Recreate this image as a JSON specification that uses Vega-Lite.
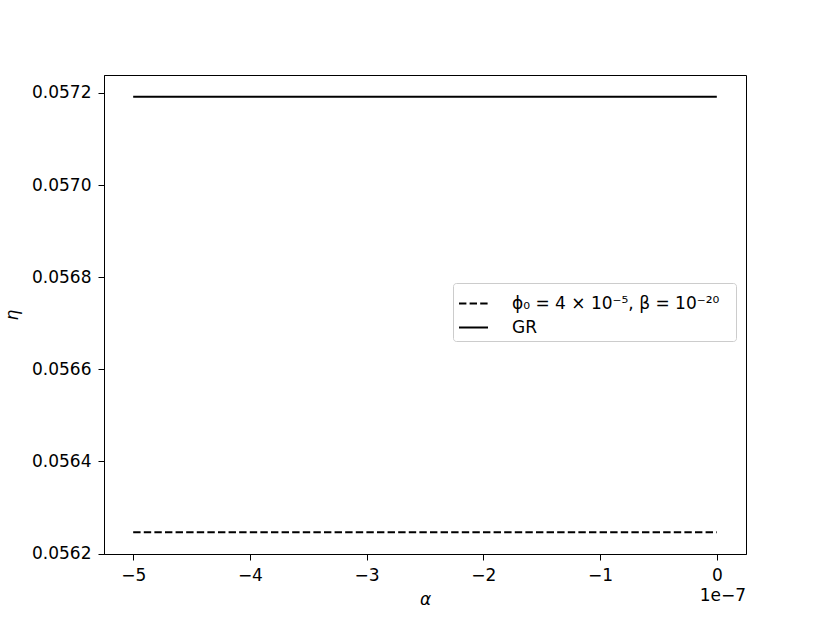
{
  "$schema": "https://vega.github.io/schema/vega-lite/v6.json",
  "width": 642,
  "height": 479,
  "autosize": {"type": "none"},
  "padding": {"left": 104, "top": 75, "right": 84, "bottom": 69},
  "background": "white",
  "config": {
    "font": "DejaVu Sans",
    "view": {"stroke": "black", "strokeWidth": 1},
    "axis": {
      "grid": false,
      "domainColor": "black",
      "tickColor": "black",
      "tickSize": 6,
      "labelFontSize": 17,
      "labelColor": "black",
      "titleFontSize": 17,
      "titleColor": "black",
      "titleFontWeight": "normal",
      "labelPadding": 7
    }
  },
  "layer": [
    {
      "data": {
        "values": [
          {"alpha": -5e-7, "eta": 0.056246, "series": "ϕ₀ = 4 × 10⁻⁵,   β = 10⁻²⁰"},
          {"alpha": 0, "eta": 0.056246, "series": "ϕ₀ = 4 × 10⁻⁵,   β = 10⁻²⁰"},
          {"alpha": -5e-7, "eta": 0.057192, "series": "GR"},
          {"alpha": 0, "eta": 0.057192, "series": "GR"}
        ]
      },
      "mark": {"type": "line", "color": "black", "strokeWidth": 2, "clip": true},
      "encoding": {
        "x": {
          "field": "alpha",
          "type": "quantitative",
          "scale": {"domain": [-5.25e-7, 2.5e-8], "nice": false, "zero": false},
          "axis": {
            "values": [-5e-7, -4e-7, -3e-7, -2e-7, -1e-7, 0],
            "labelExpr": "replace(format(datum.value*1e7, 'd'), '-', '−')",
            "title": "α",
            "titleFontStyle": "italic",
            "titlePadding": 8
          }
        },
        "y": {
          "field": "eta",
          "type": "quantitative",
          "scale": {"domain": [0.056199, 0.057239], "nice": false, "zero": false},
          "axis": {
            "values": [0.0562, 0.0564, 0.0566, 0.0568, 0.057, 0.0572],
            "format": ".4f",
            "title": "η",
            "titleFontStyle": "italic",
            "titlePadding": 10
          }
        },
        "strokeDash": {
          "field": "series",
          "type": "nominal",
          "scale": {
            "domain": ["ϕ₀ = 4 × 10⁻⁵,   β = 10⁻²⁰", "GR"],
            "range": [[7.4, 3.2], [1, 0]]
          },
          "legend": {
            "title": null,
            "orient": "none",
            "legendX": 349,
            "legendY": 208,
            "symbolType": "stroke",
            "symbolSize": 841,
            "symbolStrokeWidth": 2,
            "symbolStrokeColor": "black",
            "labelFontSize": 17,
            "labelColor": "black",
            "labelLimit": 400,
            "labelOffset": 23,
            "rowPadding": 0,
            "padding": 5,
            "strokeColor": "#cccccc",
            "fillColor": "white",
            "cornerRadius": 3
          }
        }
      }
    },
    {
      "data": {"values": [{"label": "1e−7"}]},
      "mark": {"type": "text", "align": "right", "baseline": "top", "dy": 34, "fontSize": 17, "fontWeight": "normal", "color": "black"},
      "encoding": {
        "x": {"datum": 2.5e-8, "type": "quantitative"},
        "y": {"datum": 0.056199, "type": "quantitative"},
        "text": {"field": "label", "type": "nominal"}
      }
    }
  ]
}
